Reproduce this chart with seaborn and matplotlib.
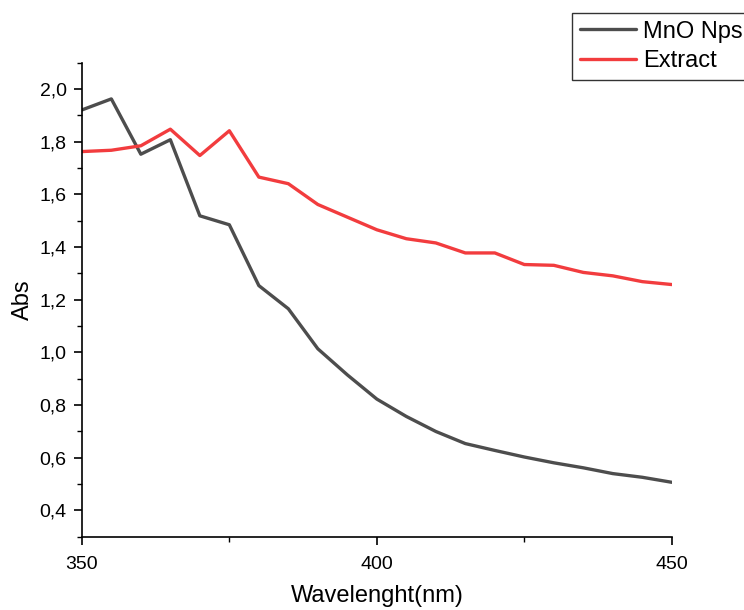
import numpy as np
import pandas as pd
import matplotlib
matplotlib.use("Agg")
import matplotlib.pyplot as plt
from matplotlib.ticker import MultipleLocator, FuncFormatter
import seaborn as sns

# UV-Vis absorbance spectra
wavelength = [350, 355, 360, 365, 370, 375, 380, 385, 390, 395, 400,
              405, 410, 415, 420, 425, 430, 435, 440, 445, 450]
mno_nps = [1.921, 1.963, 1.753, 1.808, 1.519, 1.485, 1.254, 1.166, 1.014, 0.915, 0.823,
           0.757, 0.700, 0.654, 0.628, 0.603, 0.581, 0.562, 0.540, 0.526, 0.507]
extract = [1.763, 1.768, 1.785, 1.848, 1.748, 1.842, 1.666, 1.641, 1.562, 1.514, 1.466,
           1.432, 1.416, 1.378, 1.378, 1.334, 1.331, 1.304, 1.291, 1.269, 1.258]
series_names = ["MnO Nps", "Extract"]
x_ticks = [350, 400, 450]
y_ticks = [0.4, 0.6, 0.8, 1.0, 1.2, 1.4, 1.6, 1.8, 2.0]

df = pd.concat([
    pd.DataFrame({"Wavelength": wavelength, "Abs": mno_nps, "Sample": series_names[0]}),
    pd.DataFrame({"Wavelength": wavelength, "Abs": extract, "Sample": series_names[1]}),
])

sns.set_style("ticks")
plt.rcParams["font.family"] = ["Liberation Sans", "DejaVu Sans"]
plt.rcParams["text.color"] = "black"
plt.rcParams["axes.labelcolor"] = "black"

fig = plt.figure(figsize=(7.44, 6.10), dpi=100)
ax = fig.add_axes([0.110, 0.120, 0.793, 0.777])

palette = {"MnO Nps": "#4d4d4d", "Extract": "#f23c3e"}
sns.lineplot(data=df, x="Wavelength", y="Abs", hue="Sample", palette=palette,
             linewidth=2.4, ax=ax, legend=False)

ax.set_xlim(350, 450)
ax.set_ylim(0.3, 2.1)
ax.set_xticks(x_ticks)
ax.xaxis.set_minor_locator(MultipleLocator(25))
ax.set_yticks(y_ticks)
ax.yaxis.set_minor_locator(MultipleLocator(0.1))
ax.yaxis.set_major_formatter(FuncFormatter(lambda v, p: f"{v:.1f}".replace(".", ",")))

for s in ["top", "right"]:
    ax.spines[s].set_visible(False)
for s in ["left", "bottom"]:
    ax.spines[s].set_color("black")
    ax.spines[s].set_linewidth(1.2)

ax.tick_params(axis="both", which="major", direction="out", length=6, width=1.2,
               labelsize=14, colors="black", labelcolor="black", pad=5)
ax.tick_params(axis="x", which="major", pad=7.5)
ax.tick_params(axis="both", which="minor", direction="out", length=3.5, width=1.0,
               colors="black")

ax.set_xlabel("Wavelenght(nm)", fontsize=17, labelpad=9)
ax.set_ylabel("Abs", fontsize=17, labelpad=4)

handles = [plt.Line2D([], [], color=palette[n], linewidth=2.4) for n in series_names]
leg = fig.legend(handles, series_names, loc="upper left",
                 bbox_to_anchor=(572 / 744, 1 - 13 / 610),
                 fontsize=17, frameon=True, fancybox=False, handlelength=2.4,
                 borderpad=0.32, labelspacing=0.32, handletextpad=0.3,
                 borderaxespad=0)
leg.get_frame().set_edgecolor("black")
leg.get_frame().set_linewidth(1.0)

fig.savefig("out.png", dpi=100)
